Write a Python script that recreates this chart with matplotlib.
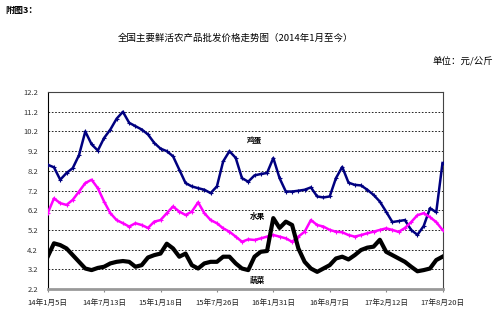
import matplotlib
matplotlib.use('Agg')
import matplotlib.pyplot as plt
import numpy as np

plt.rcParams['font.family'] = ['Noto Sans CJK SC', 'DejaVu Sans']

# weeks since 2014-01-05, one reading every 3 weeks
weeks = np.arange(64) * 3

egg = [8.51, 8.38, 7.75, 8.09, 8.34, 9.0, 10.2, 9.55, 9.23, 9.87,
       10.3, 10.85, 11.2, 10.64, 10.47, 10.3, 10.05, 9.62, 9.33, 9.2,
       8.94, 8.26, 7.58, 7.41, 7.32, 7.24, 7.07, 7.41, 8.68, 9.2,
       8.86, 7.83, 7.65, 7.97, 8.04, 8.09, 8.85, 7.83, 7.15, 7.15,
       7.19, 7.24, 7.36, 6.9, 6.85, 6.9, 7.83, 8.4, 7.6, 7.49,
       7.46, 7.24, 6.98, 6.64, 6.13, 5.6, 5.65, 5.7, 5.2, 4.95,
       5.4, 6.3, 6.1, 8.6]
fruit = [6.05, 6.8, 6.56, 6.47, 6.73, 7.15, 7.58, 7.75, 7.32, 6.64,
         6.05, 5.7, 5.54, 5.37, 5.54, 5.45, 5.3, 5.62, 5.7, 6.05,
         6.39, 6.13, 5.96, 6.13, 6.6, 6.05, 5.7, 5.54, 5.28, 5.11,
         4.86, 4.6, 4.72, 4.69, 4.77, 4.86, 4.94, 4.86, 4.77, 4.6,
         4.86, 5.11, 5.7, 5.45, 5.37, 5.2, 5.11, 5.08, 4.94, 4.86,
         4.94, 5.03, 5.11, 5.2, 5.28, 5.2, 5.1, 5.3, 5.6, 5.95,
         6.05, 5.85, 5.6, 5.2]
veg = [3.84, 4.52, 4.43, 4.26, 3.92, 3.58, 3.24, 3.16, 3.27, 3.33,
       3.5, 3.58, 3.62, 3.58, 3.33, 3.41, 3.8, 3.92, 4.0, 4.5,
       4.26, 3.84, 4.0, 3.41, 3.24, 3.5, 3.58, 3.58, 3.84, 3.84,
       3.5, 3.24, 3.16, 3.84, 4.09, 4.13, 5.8, 5.3, 5.62, 5.45,
       4.26, 3.58, 3.24, 3.07, 3.24, 3.41, 3.75, 3.84, 3.7, 3.92,
       4.18, 4.3, 4.35, 4.7, 4.09, 3.92, 3.75, 3.58, 3.33, 3.1,
       3.16, 3.24, 3.67, 3.84]

tick_weeks = [0, 27, 54, 81, 108, 135, 162, 189]
tick_labels = ['14年1月5日', '14年7月13日', '15年1月18日', '15年7月26日',
               '16年1月31日', '16年8月7日', '17年2月12日', '17年8月20日']
yticks = [2.2, 3.2, 4.2, 5.2, 6.2, 7.2, 8.2, 9.2, 10.2, 11.2, 12.2]

fig = plt.figure(figsize=(5, 3.22), dpi=100)
ax = fig.add_axes([0.0954, 0.1025, 0.7896, 0.6115])

for y in yticks[1:-1]:
    ax.axhline(y, color='black', lw=0.6, ls=(0, (2, 2)), zorder=1)

ax.plot(weeks, egg, color='#000080', lw=1.8, marker='+', ms=2.5, mew=0.8, zorder=3)
ax.plot(weeks, fruit, color='#FF00FF', lw=1.8, marker='+', ms=2.5, mew=0.8, zorder=3)
ax.plot(weeks, veg, color='black', lw=3, zorder=4)

ax.text(99, 9.75, '鸡蛋', fontsize=5.5, fontweight='bold', ha='center', va='center')
ax.text(100.5, 5.87, '水果', fontsize=5.5, fontweight='bold', ha='center', va='center')
ax.text(100.5, 2.62, '蔬菜', fontsize=5.5, fontweight='bold', ha='center', va='center')

ax.set_xlim(0, 189)
ax.set_ylim(2.2, 12.2)
ax.set_xticks(tick_weeks)
ax.set_xticklabels(tick_labels, fontsize=5.5, color='#222222')
ax.set_yticks(yticks)
ax.set_yticklabels(['%.1f' % v for v in yticks], fontsize=5.5, color='#333333')
ax.tick_params(axis='y', length=0, pad=7)
ax.tick_params(axis='x', length=2, pad=5, color='#888888')

ax.spines['left'].set_color('black')
ax.spines['left'].set_linewidth(0.8)
ax.spines['bottom'].set_color('#999999')
ax.spines['bottom'].set_linewidth(2)
for s in ['top', 'right']:
    ax.spines[s].set_color('#444444')
    ax.spines[s].set_linewidth(0.8)

fig.text(0.01, 0.968, '附图3：', fontsize=6.5, fontweight='bold', va='center')
fig.text(0.47, 0.882, '全国主要鲜活农产品批发价格走势图（2014年1月至今）',
         fontsize=6.8, ha='center', va='center')
fig.text(0.986, 0.808, '单位：元/公斤', fontsize=6.8, ha='right', va='center')

fig.savefig('out.png', dpi=100)
